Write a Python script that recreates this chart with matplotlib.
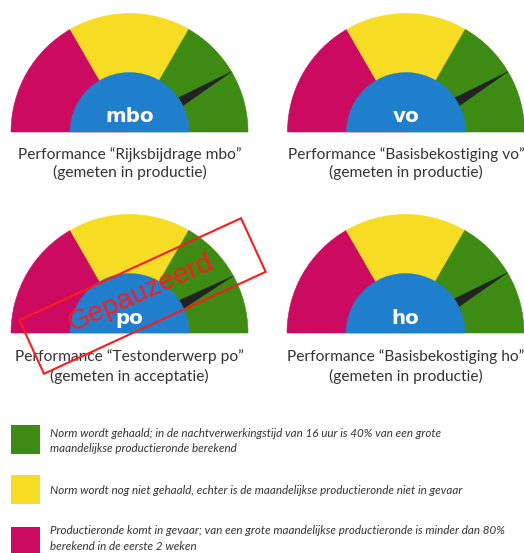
import matplotlib
matplotlib.use('Agg')
import matplotlib.pyplot as plt
from matplotlib.patches import Wedge, Polygon, Rectangle
import numpy as np

# ---------------- data ----------------
sectors = ['mbo', 'vo', 'po', 'ho']
needle_values = [83, 83, 84, 83]          # needle position on a 0-100 scale
caption_titles = ['Performance “Rijksbijdrage mbo”',
                  'Performance “Basisbekostiging vo”',
                  'Performance “Testonderwerp po”',
                  'Performance “Basisbekostiging ho”']
caption_subtitles = ['(gemeten in productie)',
                     '(gemeten in productie)',
                     '(gemeten in acceptatie)',
                     '(gemeten in productie)']
paused = [False, False, True, False]
stamp_text = 'Gepauzeerd'
zone_bounds = [0, 33.33, 66.67, 100]      # red / yellow / green zones
legend_green = ['Norm wordt gehaald; in de nachtverwerkingstijd van 16 uur is 40% van een grote',
                'maandelijkse productieronde berekend']
legend_yellow = ['Norm wordt nog niet gehaald, echter is de maandelijkse productieronde niet in gevaar']
legend_red = ['Productieronde komt in gevaar; van een grote maandelijkse productieronde is minder dan 80%',
              'berekend in de eerste 2 weken']

# ---------------- style / layout ----------------
W, H = 524, 553
C_RED, C_YEL, C_GRN = '#cc0a5f', '#f6dc22', '#3d8b13'
C_BLUE, C_NEEDLE, C_STAMP = '#1f7fcc', '#222222', '#ff1a1a'
zone_colors = [C_RED, C_YEL, C_GRN]
centers = [(129.5, 132), (406, 132), (129.5, 333), (405.5, 333)]   # top-origin px
label_base = [122, 122, 323.5, 324.5]
cap_base = [(159.5, 177.5), (159.5, 177.5), (361.5, 380.5), (361.5, 380.5)]
R_OUT, R_IN = 118.5, 59.5

fig = plt.figure(figsize=(W / 100, H / 100), dpi=100)
ax = fig.add_axes([0, 0, 1, 1])
ax.set_xlim(0, W)
ax.set_ylim(0, H)
ax.axis('off')
renderer = fig.canvas.get_renderer()


def Y(y):
    return H - y


def ang(v):
    return 180.0 * (1 - v / 100.0)


def fit_size(s, target, **kw):
    t = ax.text(0, 0, s, fontsize=10, **kw)
    w = t.get_window_extent(renderer).width
    t.remove()
    return 10.0 * target / w


cap_fs = fit_size(caption_titles[0], 224, family='Lato')
lab_fs = fit_size('mbo', 48.5, family='DejaVu Sans', fontweight='bold')
leg_fs = fit_size(legend_yellow[0], 413, family='Lato', fontstyle='italic')
stamp_fs = fit_size(stamp_text, 157, family='Liberation Sans')

for i, name in enumerate(sectors):
    cx, cy = centers[i]
    c = (cx, Y(cy))
    # zones
    for z in range(3):
        ax.add_patch(Wedge(c, R_OUT, ang(zone_bounds[z + 1]), ang(zone_bounds[z]),
                           facecolor=zone_colors[z], edgecolor=zone_colors[z],
                           lw=0.4, zorder=1))
    # needle
    th = np.deg2rad(ang(needle_values[i]))
    d = np.array([np.cos(th), np.sin(th)])
    p = np.array([-np.sin(th), np.cos(th)])
    base = np.array(c) + 0.40 * R_OUT * d
    tip = np.array(c) + 1.0 * R_OUT * d
    ax.add_patch(Polygon([base + 5.5 * p, tip, base - 5.5 * p], closed=True,
                         facecolor=C_NEEDLE, edgecolor=C_NEEDLE, lw=0.3, zorder=2))
    # hub
    ax.add_patch(Wedge(c, R_IN, 0, 180, facecolor=C_BLUE, edgecolor=C_BLUE,
                       lw=0.3, zorder=3))
    ax.text(cx, Y(label_base[i]), name, color='white', fontsize=lab_fs,
            family='DejaVu Sans', fontweight='bold', ha='center', va='baseline', zorder=4)
    # captions
    ax.text(cx, Y(cap_base[i][0]), caption_titles[i], fontsize=cap_fs, family='Lato',
            color='#333333', ha='center', va='baseline', zorder=4)
    ax.text(cx, Y(cap_base[i][1]), caption_subtitles[i], fontsize=cap_fs, family='Lato',
            color='#333333', ha='center', va='baseline', zorder=4)
    # stamp
    if paused[i]:
        sc = (142.5, Y(296))
        sw, sh, sa = 244, 59, 24.7
        ax.add_patch(Rectangle((sc[0] - sw / 2, sc[1] - sh / 2), sw, sh, angle=sa,
                               rotation_point='center', fill=False,
                               edgecolor=C_STAMP, lw=1.5, zorder=10))
        ax.text(141, Y(293.5), stamp_text, color=C_STAMP, fontsize=stamp_fs,
                family='Liberation Sans', rotation=24.0, rotation_mode='anchor',
                ha='center', va='center', zorder=10)

# legend
legend_sets = [(C_GRN, legend_green, 425, [437, 452]),
               (C_YEL, legend_yellow, 475, [494]),
               (C_RED, legend_red, 527, [534, 550])]
for col, lines, top, bases in legend_sets:
    ax.add_patch(Rectangle((11, Y(top + 29)), 29, 29, facecolor=col, edgecolor='none', zorder=1))
    for s, b in zip(lines, bases):
        ax.text(50, Y(b), s, fontsize=leg_fs, family='Lato', fontstyle='italic',
                color='#333333', ha='left', va='baseline', zorder=4)

fig.savefig('out.png', dpi=100)
